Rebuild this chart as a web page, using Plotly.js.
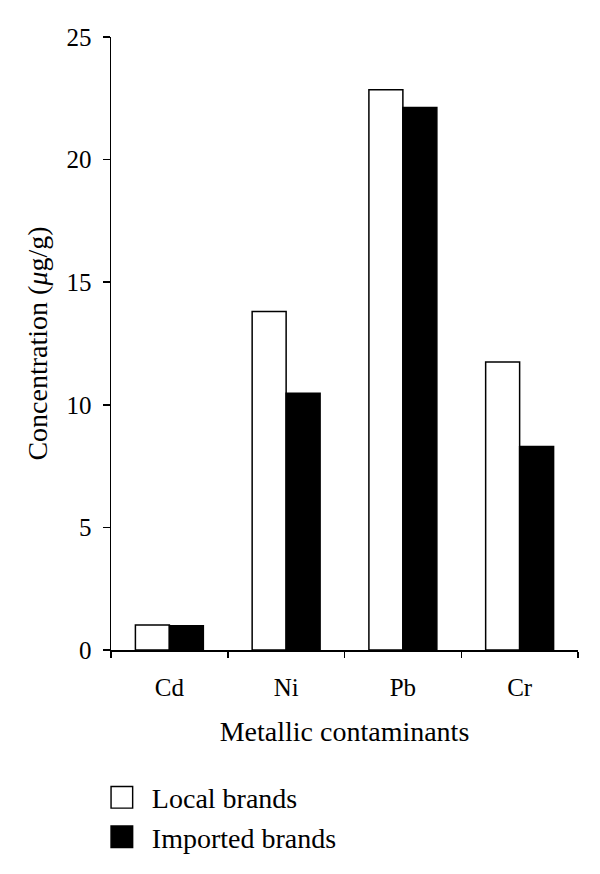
<!DOCTYPE html>
<html>
<head>
<meta charset="utf-8">
<script src="https://cdn.plot.ly/plotly-3.0.1.min.js"></script>
<style>
  body { margin: 0; background: #fff; }
  #chart { width: 600px; height: 874px; }
</style>
</head>
<body>
<div id="chart"></div>
<script>
// metals on the x axis
var metals = ['Cd', 'Ni', 'Pb', 'Cr'];

// mean concentration in ug/g
var localBrands = [1.02, 13.8, 22.85, 11.75];
var importedBrands = [0.99, 10.47, 22.12, 8.3];

var serif = 'Liberation Serif, Times New Roman, serif';

var traces = [
    {
        x: metals,
        y: localBrands,
        name: 'Local brands',
        type: 'bar',
        marker: {color: '#ffffff', line: {color: '#000000', width: 1.5}}
    },
    {
        x: metals,
        y: importedBrands,
        name: 'Imported brands',
        type: 'bar',
        marker: {color: '#000000', line: {color: '#000000', width: 1.5}}
    }
];

var layout = {
    width: 600,
    height: 874,
    margin: {l: 111, r: 22, t: 37, b: 220},
    paper_bgcolor: '#ffffff',
    plot_bgcolor: '#ffffff',
    font: {family: serif, color: '#000000', size: 25},
    barmode: 'group',
    bargap: 0.418,
    bargroupgap: 0,
    showlegend: true,
    legend: {
        x: -0.041, y: -0.2,
        xanchor: 'left', yanchor: 'top',
        font: {family: serif, size: 28},
        itemwidth: 50,
        tracegroupgap: 0,
        bgcolor: 'rgba(0,0,0,0)'
    },
    xaxis: {
        type: 'category',
        showline: true, linecolor: '#000', linewidth: 1.5,
        ticks: 'outside', tickson: 'boundaries', ticklen: 6, tickwidth: 1.5, tickcolor: '#000',
        showgrid: false, zeroline: false,
        tickfont: {family: serif, size: 25},
        ticklabelstandoff: 14,
        title: {text: 'Metallic contaminants', font: {family: serif, size: 28}, standoff: 22}
    },
    yaxis: {
        range: [0, 25],
        tickvals: [0, 5, 10, 15, 20, 25],
        showline: true, linecolor: '#000', linewidth: 1.5,
        ticks: 'outside', ticklen: 7, tickwidth: 1.5, tickcolor: '#000',
        showgrid: false, zeroline: false,
        tickfont: {family: serif, size: 25},
        ticklabelstandoff: 6,
        title: {text: 'Concentration (<i>μ</i>g/g)', font: {family: serif, size: 28}, standoff: 10}
    }
};

Plotly.newPlot('chart', traces, layout, {staticPlot: true}).then(function () {
    // the legend boxes in the figure are larger than plotly's 12px default
    document.querySelectorAll('#chart .legendpoints path').forEach(function (p) {
        var t = p.getAttribute('transform') || '';
        p.setAttribute('transform', t + ' scale(1.8)');
        p.style.strokeWidth = '0.8px';
    });
});
</script>
</body>
</html>
